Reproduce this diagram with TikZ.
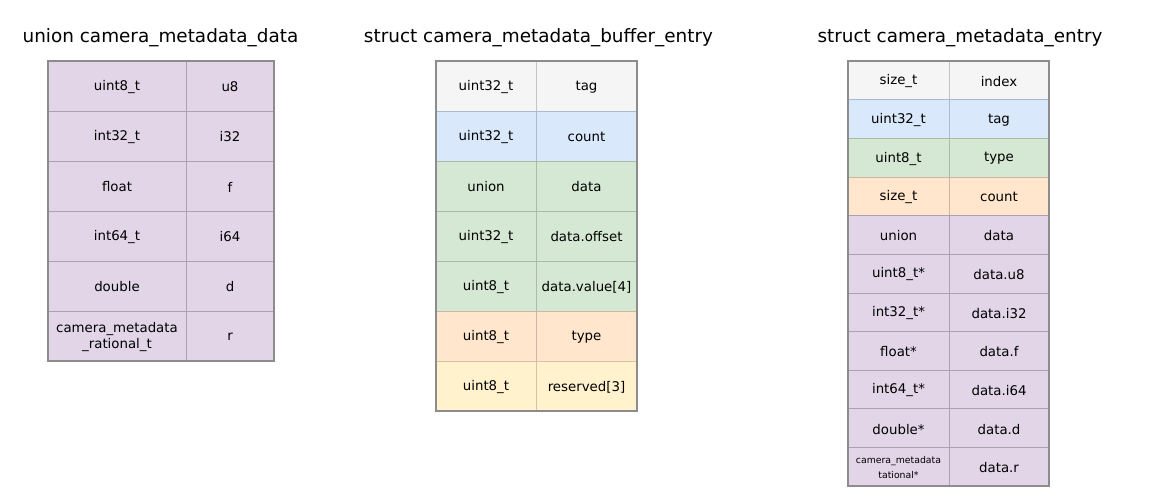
\documentclass[tikz,border=0pt]{standalone}
\usepackage{fontspec}
\setmainfont{DejaVu Sans}
\usetikzlibrary{positioning}
\definecolor{gry}{HTML}{F5F5F5}
\definecolor{gryL}{HTML}{C4C4C4}
\definecolor{blu}{HTML}{DAE8FC}
\definecolor{bluL}{HTML}{A9B9D0}
\definecolor{grn}{HTML}{D5E8D4}
\definecolor{grnL}{HTML}{A9BCA8}
\definecolor{org}{HTML}{FFE6CC}
\definecolor{orgL}{HTML}{CDB7A2}
\definecolor{yel}{HTML}{FFF2CC}
\definecolor{yelL}{HTML}{CFC4A4}
\definecolor{purp}{HTML}{E1D5E7}
\definecolor{purpL}{HTML}{ABA1B0}
\definecolor{frm}{HTML}{8C8C8C}

\begin{document}
\begin{tikzpicture}[x=0.75pt,y=-0.75pt,
    lbl/.style={font=\fontsize{10}{12}\selectfont, align=center, inner sep=0pt},
    tinylbl/.style={font=\fontsize{7}{11}\selectfont, align=center, inner sep=0pt},
    ttl/.style={font=\fontsize{13.8}{16}\selectfont, inner sep=0pt},
    frame/.style={draw=frm, line width=0.8pt}]
    \useasboundingbox (0,0) rectangle (1153,497);

    \node[ttl] (t1) at (160.5,38) {union camera\_metadata\_data};
    \foreach \i/\ty/\nm in {0/uint8\_t/u8, 1/int32\_t/i32, 2/float/f, 3/int64\_t/i64, 4/double/d,
        5/{camera\_metadata\\\_rational\_t}/r} {
        \fill[purp] (48,{61+50*\i}) rectangle (274,{111+50*\i});
        \draw[purpL] (48,{61+50*\i}) rectangle (186,{111+50*\i}) (186,{61+50*\i}) rectangle (274,{111+50*\i});
        \node[lbl] (ua\i) at (117,{87+50*\i}) {\ty};
        \node[lbl] (ub\i) at (230,{87+50*\i}) {\nm};
    }
    \draw[frame] (48,61) rectangle (274,361);

    \node[ttl] (t2) at (538.5,38) {struct camera\_metadata\_buffer\_entry};
    \foreach \i/\col/\ty/\nm in {0/gry/uint32\_t/tag, 1/blu/uint32\_t/count, 2/grn/union/data,
        3/grn/uint32\_t/data.offset, 4/grn/uint8\_t/{data.value[4]}, 5/org/uint8\_t/type,
        6/yel/uint8\_t/{reserved[3]}} {
        \fill[\col] (436,{61+50*\i}) rectangle (637,{111+50*\i});
        \draw[\col L] (436,{61+50*\i}) rectangle (536,{111+50*\i}) (536,{61+50*\i}) rectangle (637,{111+50*\i});
        \node[lbl] (ba\i) at (486,{87+50*\i}) {\ty};
        \node[lbl] (bb\i) at (586.5,{87+50*\i}) {\nm};
    }
    \draw[frame] (436,61) rectangle (637,411);

    \def\h{38.636}
    \node[ttl] (t3) at (960,38) {struct camera\_metadata\_entry};
    \foreach \i/\col/\ty/\nm in {0/gry/size\_t/index, 1/blu/uint32\_t/tag, 2/grn/uint8\_t/type,
        3/org/size\_t/count, 4/purp/union/data, 5/purp/uint8\_t*/data.u8, 6/purp/int32\_t*/data.i32,
        7/purp/float*/data.f, 8/purp/int64\_t*/data.i64, 9/purp/double*/data.d, 10/purp//data.r} {
        \fill[\col] (848,{61+\h*\i}) rectangle (1049,{61+\h*(\i+1)});
        \draw[\col L] (848,{61+\h*\i}) rectangle (949,{61+\h*(\i+1)}) (949,{61+\h*\i}) rectangle (1049,{61+\h*(\i+1)});
        \node[lbl] (ea\i) at (898.5,{62+\h*(\i+0.5)}) {\ty};
        \node[lbl] (eb\i) at (999,{62+\h*(\i+0.5)}) {\nm};
    }
    \node[tinylbl] (er) at (ea10) {camera\_metadata\\tational*};
    \draw[frame] (848,61) rectangle (1049,486);
\end{tikzpicture}
\end{document}
